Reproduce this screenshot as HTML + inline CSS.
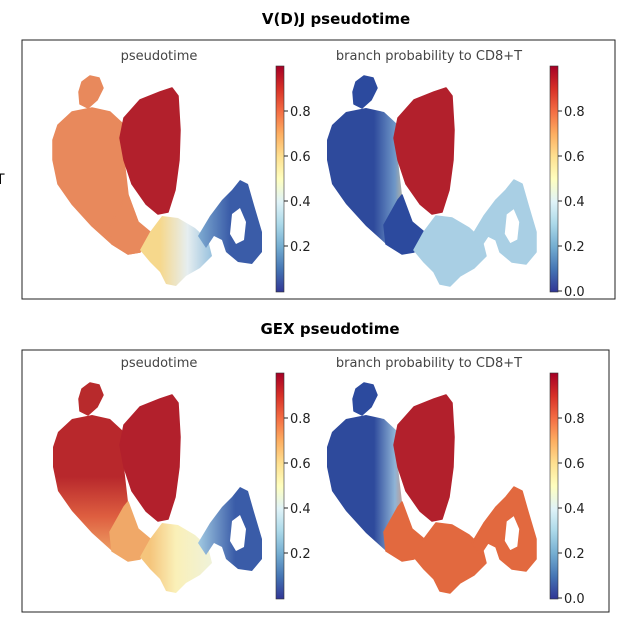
<!DOCTYPE html>
<html><head><meta charset="utf-8"><style>
body{margin:0;background:#fff;width:636px;height:636px;overflow:hidden;font-family:"Liberation Sans","DejaVu Sans",sans-serif}
svg text{font-family:"DejaVu Sans","Liberation Sans",sans-serif}
</style></head><body>
<svg id="chart" width="636" height="636" viewBox="0 0 636 636" xmlns="http://www.w3.org/2000/svg">
<defs>
<linearGradient id="cmap" x1="0" y1="1" x2="0" y2="0">
<stop offset="0" stop-color="#313695"/><stop offset="0.1" stop-color="#4575b4"/><stop offset="0.2" stop-color="#74add1"/><stop offset="0.3" stop-color="#abd9e9"/><stop offset="0.4" stop-color="#e0f3f8"/><stop offset="0.5" stop-color="#ffffbf"/><stop offset="0.6" stop-color="#fee090"/><stop offset="0.7" stop-color="#fdae61"/><stop offset="0.8" stop-color="#f46d43"/><stop offset="0.9" stop-color="#d73027"/><stop offset="1" stop-color="#a50026"/>
</linearGradient>
<linearGradient id="g1stream" gradientUnits="userSpaceOnUse" x1="160" y1="0" x2="215" y2="0"><stop offset="0" stop-color="#f6d88c"/><stop offset="0.5" stop-color="#e6eef0"/><stop offset="1" stop-color="#8fbcdc"/></linearGradient>
<linearGradient id="g1shoe" gradientUnits="userSpaceOnUse" x1="200" y1="0" x2="230" y2="0"><stop offset="0" stop-color="#7aa6cf"/><stop offset="1" stop-color="#3a5ca8"/></linearGradient>
<linearGradient id="g2left" gradientUnits="userSpaceOnUse" x1="100" y1="0" x2="135" y2="0"><stop offset="0" stop-color="#2e4a9c"/><stop offset="0.6" stop-color="#6f97c7"/><stop offset="1" stop-color="#e9c98a"/></linearGradient>
<linearGradient id="g3left" gradientUnits="userSpaceOnUse" x1="0" y1="170" x2="0" y2="250"><stop offset="0" stop-color="#b8282c"/><stop offset="0.5" stop-color="#de5f40"/><stop offset="1" stop-color="#f0a868"/></linearGradient>
<linearGradient id="g3stream" gradientUnits="userSpaceOnUse" x1="150" y1="0" x2="215" y2="0"><stop offset="0" stop-color="#f5c57c"/><stop offset="0.4" stop-color="#faf0b8"/><stop offset="1" stop-color="#eef2dc"/></linearGradient>
<linearGradient id="g3shoe" gradientUnits="userSpaceOnUse" x1="200" y1="0" x2="235" y2="0"><stop offset="0" stop-color="#9cc4df"/><stop offset="1" stop-color="#3a5ca8"/></linearGradient>
<linearGradient id="g4left" gradientUnits="userSpaceOnUse" x1="100" y1="0" x2="135" y2="0"><stop offset="0" stop-color="#2e4a9c"/><stop offset="0.6" stop-color="#8fb4d6"/><stop offset="1" stop-color="#e98a5c"/></linearGradient>
</defs>

<text x="336" y="24" text-anchor="middle" font-size="15" font-weight="bold" font-family="Liberation Sans">V(D)J pseudotime</text>
<text x="-4" y="184" font-size="14">T</text>
<rect x="22" y="40" width="593" height="259" fill="none" stroke="#222" stroke-width="1"/>
<text x="330" y="334" text-anchor="middle" font-size="15" font-weight="bold" font-family="Liberation Sans">GEX pseudotime</text>
<rect x="22" y="350" width="587" height="262" fill="none" stroke="#222" stroke-width="1"/>

<g id="panels"></g>
</svg>
<script>
const panelNames=['vdj-pseudotime','vdj-branch-prob','gex-pseudotime','gex-branch-prob'];
const panelTitles=['pseudotime','branch probability to CD8+T','pseudotime','branch probability to CD8+T'];
const panelDx=[0,274,0,274];
const panelDy=[0,0,307,307];
const tickValues=[0.2,0.4,0.6,0.8];
const tickValuesWithZero=[0.0,0.2,0.4,0.6,0.8];
const topBlobColors=['#e8895c','#2c4a9e','#b82a2c','#2c4a9e'];
const leftBlobColors=['#e8895c','url(#g2left)','url(#g3left)','url(#g4left)'];
const redBlobColors=['#b2202c','#b2202c','#b2202c','#b2202c'];
const streamColors=['url(#g1stream)','#a9cfe4','url(#g3stream)','#e2693f'];
const shoeColors=['url(#g1shoe)','#a9cfe4','url(#g3shoe)','#e2693f'];
const lowerLeftColors=['#e8895c','#2c4a9e','#f0a868','#e2693f'];

const shapes={
 top:"M82,82 L90,76 L99,78 L103,88 L97,100 L88,108 L80,104 L79,92 Z",
 left:"M58,125 L72,112 L92,108 L110,112 L123,124 L124,160 L128,195 L138,222 L148,240 L140,252 L128,254 L112,244 L92,226 L72,204 L58,184 L53,160 L53,140 Z",
 red:"M124,118 L140,100 L160,92 L172,88 L178,96 L180,130 L179,160 L175,190 L168,212 L158,214 L146,204 L132,184 L124,160 L120,138 Z",
 stream:"M140,250 L150,232 L162,216 L178,218 L195,228 L208,240 L212,256 L200,268 L186,276 L176,286 L166,284 L160,272 L150,262 Z",
 shoe:"M198,236 L210,216 L222,200 L232,190 L240,180 L248,184 L254,205 L262,232 L262,252 L252,264 L238,262 L226,252 L222,240 L214,236 L206,248 Z M232,214 L240,208 L246,222 L244,240 L236,244 L230,234 Z",
 lower:"M112,244 L128,254 L140,252 L148,240 L150,232 L138,222 L128,195 L124,200 L110,225 Z"
};
const svg=document.getElementById('panels');
const NS='http://www.w3.org/2000/svg';
function cbY(v,dy){return dy+291-v*225;}
for(let p=0;p<4;p++){
 const g=document.createElementNS(NS,'g');
 
 
 g.setAttribute('transform','translate('+panelDx[p]+','+panelDy[p]+')');
 svg.appendChild(g);
 const t=document.createElementNS(NS,'text');
 
 
 t.setAttribute('x',p%2===0?159:155);t.setAttribute('y',60);t.setAttribute('text-anchor','middle');
 t.setAttribute('font-size','13');t.setAttribute('fill','#444');t.textContent=panelTitles[p];g.appendChild(t);
 const regions=[['left',leftBlobColors[p]],['lower',lowerLeftColors[p]],['top',topBlobColors[p]],['stream',streamColors[p]],['shoe',shoeColors[p]],['red',redBlobColors[p]]];
 for(const [k,c] of regions){
  const path=document.createElementNS(NS,'path');
  
  
  path.setAttribute('d',shapes[k]);path.setAttribute('fill',c);path.setAttribute('fill-rule','evenodd');
  path.setAttribute('stroke',c.startsWith('url')?'none':c);path.setAttribute('stroke-width','1.5');path.setAttribute('stroke-linejoin','round');
  g.appendChild(path);
 }
 const cx=276;
 const cb=document.createElementNS(NS,'rect');
 
 
 cb.setAttribute('x',cx);cb.setAttribute('y',66);cb.setAttribute('width',8);cb.setAttribute('height',226);
 cb.setAttribute('fill','url(#cmap)');cb.setAttribute('stroke','#333');cb.setAttribute('stroke-width','0.6');
 g.appendChild(cb);
 const ticks=p%2===0?tickValues:tickValuesWithZero;
 for(const v of ticks){
  const y=cbY(v,0);
  const ln=document.createElementNS(NS,'line');
  
  
  ln.setAttribute('x1',cx+8);ln.setAttribute('x2',cx+12);ln.setAttribute('y1',y);ln.setAttribute('y2',y);ln.setAttribute('stroke','#222');
  g.appendChild(ln);
  const tl=document.createElementNS(NS,'text');
  
  
  tl.setAttribute('x',cx+14);tl.setAttribute('y',y+5);tl.setAttribute('font-size','13');tl.setAttribute('fill','#222');
  tl.textContent=v.toFixed(1);g.appendChild(tl);
 }
}
</script>
</body></html>
